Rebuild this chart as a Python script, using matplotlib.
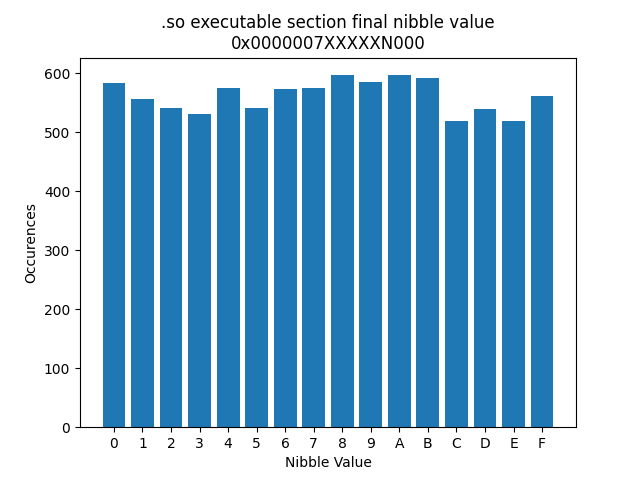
import matplotlib
matplotlib.use("Agg")
import matplotlib.pyplot as plt

nibbles = ["0", "1", "2", "3", "4", "5", "6", "7", "8", "9", "A", "B", "C", "D", "E", "F"]
counts = [583, 556, 541, 532, 575, 541, 573, 575, 597, 585, 597, 592, 519, 539, 519, 561]

fig, ax = plt.subplots(figsize=(6.4, 4.8), dpi=100)
ax.bar(nibbles, counts)
ax.set_title(".so executable section final nibble value\n0x0000007XXXXXN000")
ax.set_xlabel("Nibble Value")
ax.set_ylabel("Occurences")
fig.savefig("out.png")
